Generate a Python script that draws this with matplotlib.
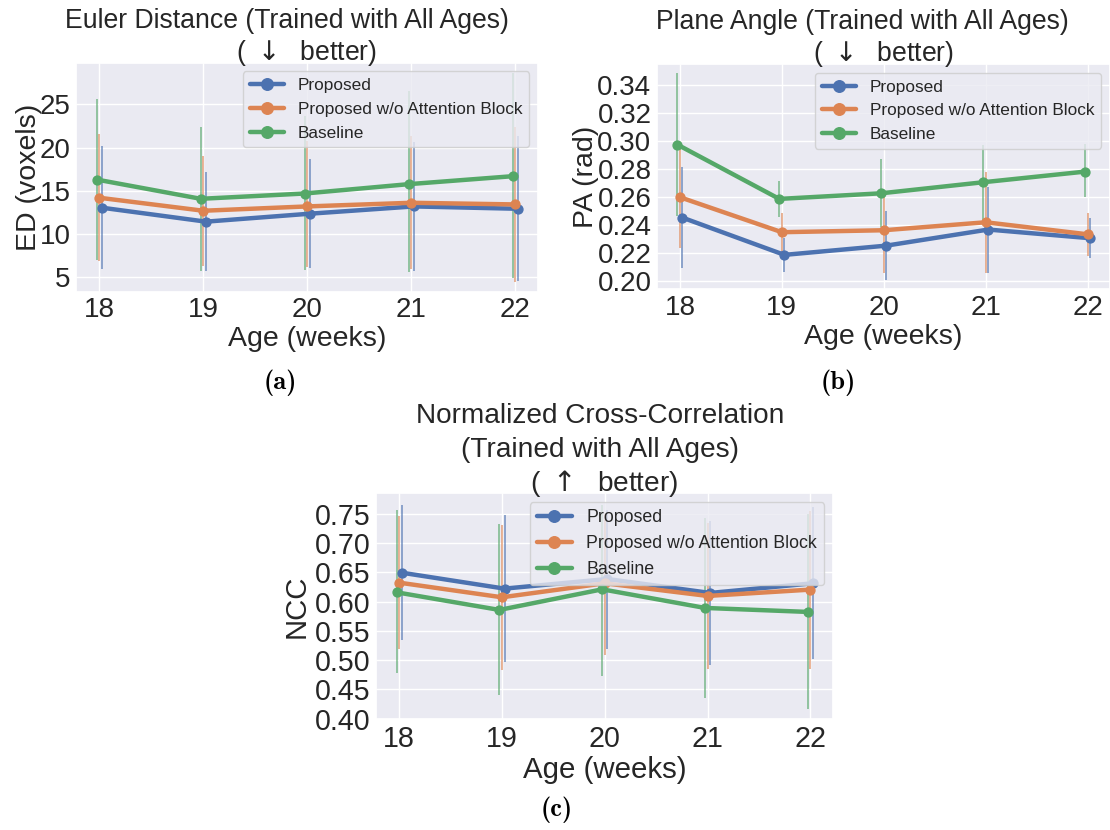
import matplotlib
matplotlib.use("Agg")
import matplotlib.pyplot as plt
import seaborn as sns

sns.set_theme(style="darkgrid")
plt.rcParams["font.family"] = ["Liberation Sans", "DejaVu Sans"]
plt.rcParams["mathtext.fontset"] = "dejavusans"

ages = [18, 19, 20, 21, 22]
methods = ["Proposed", "Proposed w/o Attention Block", "Baseline"]
colors = ["#4C72B0", "#DD8452", "#55A868"]
dodge = [0.025, 0.0, -0.025]

# Euler distance (voxels): mean and error-bar bounds
ed_proposed = [13.05, 11.44, 12.36, 13.20, 12.93]
ed_noatt = [14.20, 12.70, 13.20, 13.62, 13.43]
ed_baseline = [16.30, 14.08, 14.69, 15.77, 16.69]
ed_proposed_lo = [6.00, 5.77, 6.03, 5.77, 4.60]
ed_proposed_hi = [20.13, 17.15, 18.68, 20.60, 21.36]
ed_noatt_lo = [6.88, 6.34, 6.22, 5.92, 4.50]
ed_noatt_hi = [21.55, 19.06, 20.80, 21.36, 22.40]
ed_baseline_lo = [7.03, 5.77, 5.84, 5.64, 4.90]
ed_baseline_hi = [25.65, 22.43, 23.66, 26.50, 28.60]

# Plane angle (rad)
pa_proposed = [0.2452, 0.2186, 0.2252, 0.2367, 0.2305]
pa_noatt = [0.2598, 0.2348, 0.2362, 0.2419, 0.2333]
pa_baseline = [0.2974, 0.2586, 0.2626, 0.2705, 0.2781]
pa_proposed_lo = [0.2095, 0.2067, 0.2007, 0.2060, 0.2162]
pa_proposed_hi = [0.2817, 0.2310, 0.2500, 0.2674, 0.2448]
pa_noatt_lo = [0.2233, 0.2198, 0.2055, 0.2060, 0.2181]
pa_noatt_hi = [0.2952, 0.2488, 0.2620, 0.2777, 0.2488]
pa_baseline_lo = [0.2464, 0.2455, 0.2388, 0.2436, 0.2602]
pa_baseline_hi = [0.3483, 0.2714, 0.2869, 0.2970, 0.2980]

# Normalized cross-correlation
ncc_proposed = [0.6494, 0.6222, 0.6386, 0.6148, 0.6313]
ncc_noatt = [0.6324, 0.6074, 0.6313, 0.6097, 0.6205]
ncc_baseline = [0.6159, 0.5858, 0.6210, 0.5892, 0.5824]
ncc_proposed_lo = [0.5341, 0.4972, 0.5199, 0.4915, 0.5028]
ncc_proposed_hi = [0.7653, 0.7472, 0.7570, 0.7370, 0.7614]
ncc_noatt_lo = [0.5199, 0.4840, 0.5085, 0.4852, 0.4852]
ncc_noatt_hi = [0.7455, 0.7307, 0.7500, 0.7340, 0.7550]
ncc_baseline_lo = [0.4773, 0.4398, 0.4727, 0.4358, 0.4159]
ncc_baseline_hi = [0.7557, 0.7330, 0.7650, 0.7426, 0.7490]

ed_yticks = [5, 10, 15, 20, 25]
pa_yticks = [0.20, 0.22, 0.24, 0.26, 0.28, 0.30, 0.32, 0.34]
ncc_yticks = [0.40, 0.45, 0.50, 0.55, 0.60, 0.65, 0.70, 0.75]

W, H = 1110, 830
fig = plt.figure(figsize=(W / 100, H / 100), dpi=100)


def box(l, r, t, b):
    return [l / W, 1 - b / H, (r - l) / W, (b - t) / H]


def panel(rect, means, los, his, yticks, ylim, ylabel, title_lines, yfmt,
          title_xs, ylabelpad, fs=1.0, tfs=1.0):
    ax = fig.add_axes(rect)
    for i, (m, lo, hi) in enumerate(zip(means, los, his)):
        xs = [a + dodge[i] for a in ages]
        ax.vlines(xs, lo, hi, color=colors[i], lw=1.2, alpha=0.7, zorder=2)
        ax.plot(xs, m, color=colors[i], lw=3.2, marker="o", ms=6.4,
                label=methods[i], zorder=3 + i)
    ax.set_xlim(17.775, 22.22)
    ax.set_ylim(*ylim)
    ax.set_xticks(ages)
    ax.set_xticklabels([str(a) for a in ages])
    ax.set_yticks(yticks)
    ax.set_yticklabels([yfmt.format(v) for v in yticks])
    ax.tick_params(axis="both", labelsize=20 * fs, length=0, pad=4,
                   colors="#262626")
    ax.set_xlabel("Age (weeks)", fontsize=20.5 * fs, labelpad=2, color="#262626")
    ax.set_ylabel(ylabel, fontsize=20.5 * fs, labelpad=ylabelpad, color="#262626")
    # stacked title lines, bottom line first
    tsize = 19.2 * tfs
    step = tsize * 1.2
    n = len(title_lines)
    for k, (line, tx) in enumerate(zip(title_lines, title_xs)):
        ax.annotate(line, xy=(tx, 1.0), xycoords="axes fraction",
                    xytext=(0, 2 + (n - 1 - k) * step), textcoords="offset points",
                    ha="center", va="baseline", fontsize=tsize, color="#262626")
    ax.legend(loc="upper right", fontsize=12.4 * fs, markerscale=1.3,
              borderaxespad=0.5)
    return ax


panel(box(76, 538, 62.7, 291.7),
      [ed_proposed, ed_noatt, ed_baseline],
      [ed_proposed_lo, ed_noatt_lo, ed_baseline_lo],
      [ed_proposed_hi, ed_noatt_hi, ed_baseline_hi],
      ed_yticks, (3.35, 29.8), "ED (voxels)",
      ["Euler Distance (Trained with All Ages)", "( $\\downarrow$  better)"],
      "{:g}", [0.457, 0.5], -2)

panel(box(657, 1110, 64, 289.3),
      [pa_proposed, pa_noatt, pa_baseline],
      [pa_proposed_lo, pa_noatt_lo, pa_baseline_lo],
      [pa_proposed_hi, pa_noatt_hi, pa_baseline_hi],
      pa_yticks, (0.194, 0.355), "PA (rad)",
      ["Plane Angle (Trained with All Ages)", "( $\\downarrow$  better)"],
      "{:.2f}", [0.4525, 0.5], -1)

panel(box(376, 833, 493.3, 719.3),
      [ncc_proposed, ncc_noatt, ncc_baseline],
      [ncc_proposed_lo, ncc_noatt_lo, ncc_baseline_lo],
      [ncc_proposed_hi, ncc_noatt_hi, ncc_baseline_hi],
      ncc_yticks, (0.399, 0.785), "NCC",
      ["Normalized Cross-Correlation", "(Trained with All Ages)",
       "( $\\uparrow$  better)"],
      "{:.2f}", [0.49, 0.49, 0.5], 3, fs=1.03, tfs=1.05)

for x, y, s in [(280, 383, "(a)"), (838, 383, "(b)"), (557, 810, "(c)")]:
    fig.text(x / W, 1 - y / H, s, family="cmb10",
             fontsize=19, ha="center", va="center", color="black")

fig.savefig("out.png", dpi=100)
